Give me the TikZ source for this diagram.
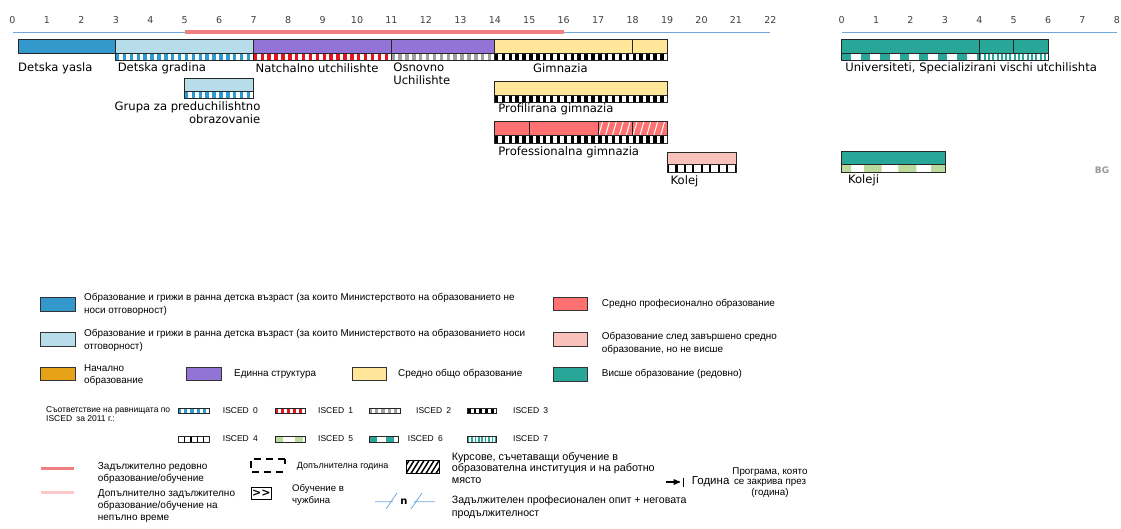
\documentclass[tikz,border=0pt]{standalone}
\usepackage{fontspec}
\setmainfont{DejaVu Sans}
\newfontfamily\legendfont{Liberation Sans}
\usetikzlibrary{arrows,positioning}

\definecolor{yaslablue}{RGB}{51,153,204}
\definecolor{gradinablue}{RGB}{183,221,235}
\definecolor{unipurple}{RGB}{146,115,214}
\definecolor{gimyellow}{RGB}{255,230,153}
\definecolor{profred}{RGB}{255,112,112}
\definecolor{postpink}{RGB}{248,194,186}
\definecolor{higherteal}{RGB}{40,166,152}
\definecolor{primorange}{RGB}{230,163,23}
\definecolor{iscedblue}{RGB}{46,155,208}
\definecolor{iscedred}{RGB}{230,20,30}
\definecolor{iscedgrey}{RGB}{160,160,160}
\definecolor{iscedgreen}{RGB}{185,218,156}
\definecolor{axisblue}{RGB}{111,168,220}
\definecolor{compred}{RGB}{240,128,128}
\definecolor{comppink}{RGB}{250,200,200}

\tikzset{
  bar/.style={draw=black!85,line width=0.8pt},
  tick/.style={inner sep=0pt,font=\fontsize{9.5}{10}\selectfont,text=black!75},
  barlabel/.style={inner sep=0pt,anchor=west,font=\fontsize{11.6}{12.8}\selectfont},
  axis line/.style={draw=axisblue,line width=1pt},
  comp line/.style={draw=compred,line width=3.2pt},
  legbox/.style={draw=black!80,line width=1pt},
  legtext/.style={inner sep=0pt,align=left,font=\legendfont\fontsize{9.9}{13}\selectfont},
  smalltext/.style={inner sep=0pt,align=left,font=\legendfont\fontsize{8.5}{9}\selectfont}
}

% one ISCED stripe: x1, x2, top, bottom, colour, period, block
\newcommand{\iscedrow}[7]{%
  \fill[white] (#1,#3) rectangle (#2,#4);
  \pgfmathtruncatemacro{\nblk}{(#2-#1)/#6-0.0001}
  \foreach \k in {0,...,\nblk}{%
    \pgfmathsetmacro{\xa}{#1+\k*#6}%
    \pgfmathsetmacro{\xb}{min(#1+\k*#6+#7,#2)}%
    \fill[#5] (\xa,#3) rectangle (\xb,#4);
  }
  \draw[bar] (#1,#3) rectangle (#2,#4);
}

\begin{document}
\begin{tikzpicture}[x=1pt,y=-1pt,>=stealth']
\useasboundingbox (0,0) rectangle (1121,528);
% school ages
\begin{scope}[x=34.45pt,xshift=12.5pt]
  \foreach \a in {0,...,22}
    \node[tick] (age\a) at (\a,20) {\a};
  \draw[axis line] (0,32) -- (5,32);
  \draw[comp line] (5,32) -- (16,32);
  \draw[axis line] (16,32) -- (22,32);
  % first row
  \draw[bar,fill=yaslablue] (0.16,39.5) rectangle (3,53);
  \draw[bar,fill=gradinablue] (3,39.5) rectangle (7,53);
  \iscedrow{3}{7}{53}{60.5}{iscedblue}{0.2}{0.1}
  \draw[bar,fill=unipurple] (7,39.5) rectangle (11,53);
  \iscedrow{7}{11}{53}{60.5}{iscedred}{0.2}{0.1}
  \draw[bar,fill=unipurple] (11,39.5) rectangle (14,53);
  \iscedrow{11}{14}{53}{60.5}{iscedgrey}{0.2}{0.1}
  \draw[bar,fill=gimyellow] (14,39.5) rectangle (18,53);
  \draw[bar,fill=gimyellow] (18,39.5) rectangle (19,53);
  \iscedrow{14}{19}{53}{60.5}{black}{0.2}{0.1}
  \node[barlabel] (yasla) at (0.16,68) {Detska yasla};
  \node[barlabel] (gradina) at (3.05,68) {Detska gradina};
  \node[barlabel] (natchalno) at (7.05,68) {Natchalno utchilishte};
  \node[barlabel,align=left] (osnovno) at (11.05,73.5) {Osnovno\\Uchilishte};
  \node[barlabel] (gimnazia) at (15.11,68) {Gimnazia};
  % pre-school group
  \draw[bar,fill=gradinablue] (5,78) rectangle (7,91);
  \iscedrow{5}{7}{91}{98}{iscedblue}{0.2}{0.1}
  \node[barlabel,anchor=east,align=right] (grupa) at (7.2,113) {Grupa za preduchilishtno\\obrazovanie};
  % profiled gymnasium
  \draw[bar,fill=gimyellow] (14,81) rectangle (19,95);
  \iscedrow{14}{19}{95}{102}{black}{0.2}{0.1}
  \node[barlabel] (profilirana) at (14.1,109) {Profilirana gimnazia};
  % vocational gymnasium
  \fill[profred] (14,121.5) rectangle (19,135);
  \begin{scope}
    \clip (17,121.5) rectangle (19,135);
    \foreach \h in {17,17.2,...,19.2}
      \draw[white,line width=1pt] (\h,137) -- (\h+0.15,119);
  \end{scope}
  \draw[bar] (14,121.5) rectangle (15,135) (15,121.5) rectangle (17,135)
    (17,121.5) rectangle (18,135) (18,121.5) rectangle (19,135);
  \iscedrow{14}{19}{135}{143}{black}{0.2}{0.1}
  \node[barlabel] (professionalna) at (14.1,152) {Professionalna gimnazia};
  % college
  \draw[bar,fill=postpink] (19,152) rectangle (21,164.5);
  \iscedrow{19}{21}{164.5}{172.5}{black}{0.245}{0.06}
  \node[barlabel] (kolej) at (19.1,181) {Kolej};
\end{scope}
% higher education years
\begin{scope}[x=34.4pt,xshift=841.7pt]
  \foreach \a in {0,...,8}
    \node[tick] (year\a) at (\a,20) {\a};
  \draw[axis line] (0,32) -- (8,32);
  \draw[bar,fill=higherteal] (0,39.5) rectangle (4,53) (4,39.5) rectangle (5,53)
    (5,39.5) rectangle (6,53);
  \iscedrow{0}{4}{53}{60.5}{higherteal}{0.56}{0.27}
  \iscedrow{4}{6}{53}{60.5}{higherteal}{0.125}{0.06}
  \node[barlabel] (universiteti) at (0.1,68) {Universiteti, Specializirani vischi utchilishta};
  \draw[bar,fill=higherteal] (0,151) rectangle (3,164);
  \fill[white] (0,164) rectangle (3,172);
  \fill[iscedgreen] (0,164) rectangle (0.27,172) (0.65,164) rectangle (1.16,172)
    (1.65,164) rectangle (2.17,172) (2.6,164) rectangle (3,172);
  \draw[bar] (0,164) rectangle (3,172);
  \node[barlabel] (koleji) at (0.18,180) {Koleji};
\end{scope}
\node[inner sep=0pt,font=\bfseries\fontsize{9}{10}\selectfont,text=black!40] (bg) at (1102,170) {BG};
% legend: colours
\draw[legbox,fill=yaslablue] (40,297.5) rectangle (75,311);
\node[legtext,anchor=north west] (l1) at (84,293.5) {Образование и грижи в ранна детска възраст (за които Министерството на образованието не\\носи отговорност)};
\draw[legbox,fill=gradinablue] (40,332.7) rectangle (75,346);
\node[legtext,anchor=north west] (l2) at (84,329.5) {Образование и грижи в ранна детска възраст (за които Министерството на образованието носи\\отговорност)};
\draw[legbox,fill=primorange] (40,367) rectangle (75,380.7);
\node[legtext,anchor=north west,font=\legendfont\fontsize{9.9}{12}\selectfont] (l3) at (84,364.5) {Начално\\образование};
\draw[legbox,fill=unipurple] (186.7,367) rectangle (221,380.7);
\node[legtext,anchor=west] (l4) at (234,374) {Единна структура};
\draw[legbox,fill=gimyellow] (352.7,367) rectangle (386.7,380.7);
\node[legtext,anchor=west] (l5) at (398,374) {Средно общо образование};
\draw[legbox,fill=profred] (553,297) rectangle (587.7,310.7);
\node[legtext,anchor=west] (l6) at (601.7,304) {Средно професионално образование};
\draw[legbox,fill=postpink] (553,332.7) rectangle (587.7,346);
\node[legtext,anchor=north west] (l7) at (601.7,332.5) {Образование след завършено средно\\образование, но не висше};
\draw[legbox,fill=higherteal] (553,367.7) rectangle (587.7,381);
\node[legtext,anchor=west] (l8) at (601.7,374) {Висше образование (редовно)};
% legend: ISCED
\node[smalltext,anchor=north west] (isced) at (46,406) {Съответствие на равнищата по\\ISCED\enspace за 2011 г.:};
\iscedrow{178}{209}{408}{413.5}{iscedblue}{6.2}{3.1}
\node[smalltext,anchor=west] (i0) at (222.7,411) {ISCED\enspace 0};
\iscedrow{275}{305}{408}{413.5}{iscedred}{6}{3}
\node[smalltext,anchor=west] (i1) at (318,411) {ISCED\enspace 1};
\iscedrow{369}{400}{408}{413.5}{iscedgrey}{6.2}{3.1}
\node[smalltext,anchor=west] (i2) at (416,411) {ISCED\enspace 2};
\iscedrow{467.7}{496.7}{408}{413.5}{black}{5.8}{2.9}
\node[smalltext,anchor=west] (i3) at (513,411) {ISCED\enspace 3};
\iscedrow{178}{209}{436.5}{442}{black}{6.2}{1.2}
\node[smalltext,anchor=west] (i4) at (222.7,439) {ISCED\enspace 4};
\iscedrow{275}{305}{436.5}{442}{iscedgreen}{20}{8}
\node[smalltext,anchor=west] (i5) at (318,439) {ISCED\enspace 5};
\iscedrow{369}{398}{436.5}{442}{higherteal}{17}{8}
\node[smalltext,anchor=west] (i6) at (407.7,439) {ISCED\enspace 6};
\iscedrow{467.7}{496}{436.5}{442}{higherteal}{3.4}{1.7}
\node[smalltext,anchor=west] (i7) at (513,439) {ISCED\enspace 7};
% legend: lines and signs
\draw[draw=compred,line width=2.5pt] (40.7,468.3) -- (74.3,468.3);
\node[legtext,anchor=north west,font=\legendfont\fontsize{10}{12}\selectfont] (comp) at (97.7,462.5) {Задължително редовно\\образование/обучение};
\draw[draw=comppink,line width=2.5pt] (40.7,492.7) -- (74.3,492.7);
\node[legtext,anchor=north west,font=\legendfont\fontsize{10}{12}\selectfont] (partcomp) at (97.7,489) {Допълнително задължително\\образование/обучение на\\непълно време};
\draw[line width=1.6pt,dash pattern=on 7pt off 5pt] (285,459) -- (251,459) -- (251,472) -- (285,472);
\draw[line width=1.6pt] (285,459) -- (285,464);
\node[legtext,anchor=west,font=\legendfont\fontsize{9}{10}\selectfont] (extra) at (296.7,466.7) {Допълнителна година};
\draw[line width=1pt] (406,460.7) rectangle (439,473.3);
\begin{scope}
  \clip (406,460.7) rectangle (439,473.3);
  \foreach \h in {400,405,...,440}
    \draw[line width=1.5pt] (\h,475) -- (\h+10,459);
\end{scope}
\node[legtext,anchor=north west,font=\legendfont\fontsize{10.8}{11.5}\selectfont] (courses) at (451.7,452) {Курсове, съчетаващи обучение в\\образователна институция и на работно\\място};
\draw[line width=1pt] (251,487) rectangle (271.7,499);
\node[inner sep=0pt,font=\bfseries\fontsize{11}{12}\selectfont] (abroad) at (261.3,493) {>{}>};
\node[legtext,anchor=north west,font=\legendfont\fontsize{9.6}{12}\selectfont] (abroadtxt) at (292,484.5) {Обучение в\\чужбина};
\draw[axisblue,line width=0.8pt] (375,501.7) -- (393,501.7) (386,509) -- (397,493);
\node[inner sep=0pt,font=\bfseries\fontsize{10}{10}\selectfont] (nyears) at (404,501.7) {n};
\draw[axisblue,line width=0.8pt] (411,509) -- (422,493) (414,501.7) -- (435,501.7);
\node[legtext,anchor=north west,font=\legendfont\fontsize{10.6}{12.5}\selectfont] (practice) at (451.7,496) {Задължителен професионален опит + неговата\\продължителност};
\draw[->,line width=1.3pt] (666,482) -- (680,482);
\draw[line width=1.6pt] (683.5,477.5) -- (683.5,486.5);
\node[legtext,anchor=west,font=\legendfont\fontsize{11.5}{12}\selectfont] (godina) at (691.7,482) {Година};
\node[legtext,align=center,font=\legendfont\fontsize{9.8}{10.7}\selectfont] (closing) at (770,482.5) {Програма, която\\се закрива през\\(година)};
\end{tikzpicture}
\end{document}
